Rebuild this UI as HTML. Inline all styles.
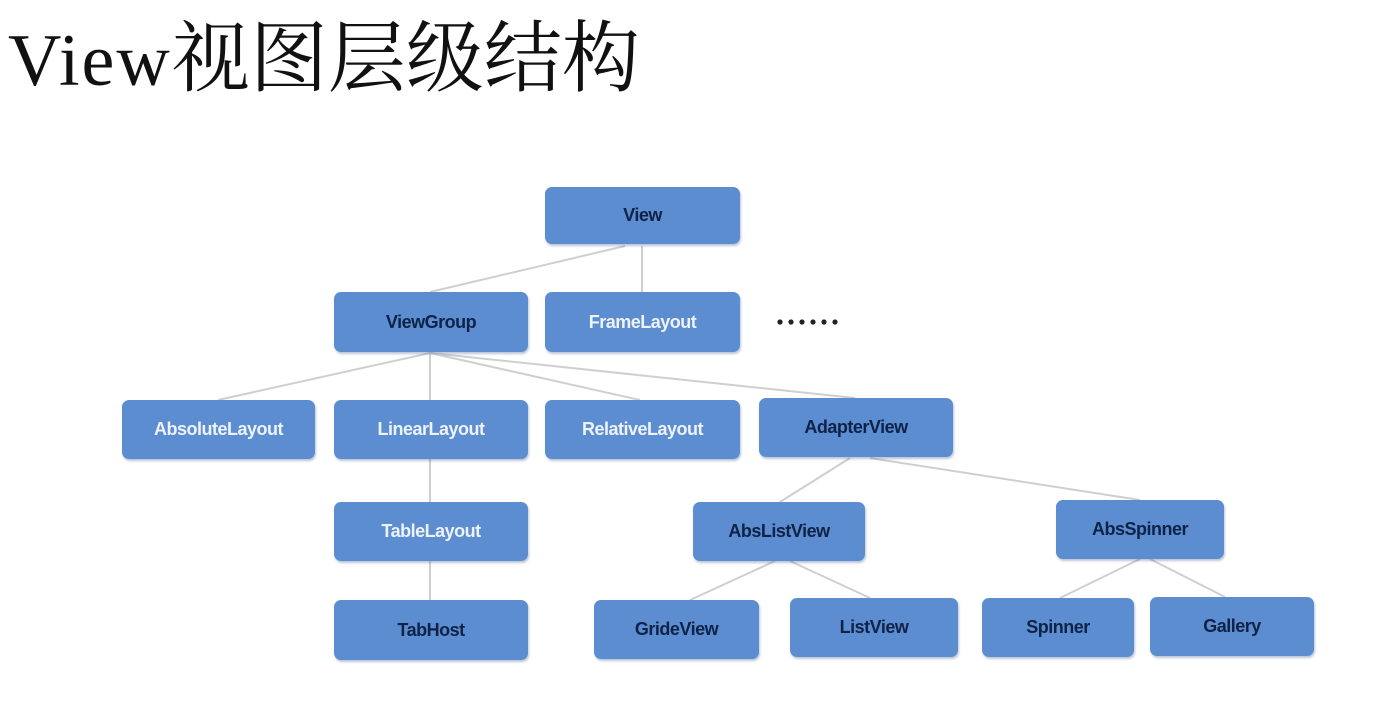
<!DOCTYPE html>
<html><head><meta charset="utf-8"><style>
body{margin:0;width:1375px;height:714px;background:#fff;position:relative;overflow:hidden;font-family:"Liberation Sans",sans-serif}
.t{position:absolute;left:8px;top:14px;font-family:"Liberation Serif","Noto Serif CJK SC",serif;font-size:78px;line-height:90px;color:#111;white-space:nowrap}
.t span{font-size:74px;letter-spacing:2px;font-weight:normal}
.n{position:absolute;background:#5b8dd0;border-radius:7px;box-shadow:1px 2px 2px rgba(60,90,140,.35);display:flex;align-items:center;justify-content:center;font-weight:bold;font-size:18px;color:#0f2247;letter-spacing:-.5px}
.w{color:#eef3fb}
svg{position:absolute;left:0;top:0}
</style></head><body>
<div class="t"><span>View</span>视图层级结构</div>
<svg width="1375" height="714"><g stroke="#cfcfcf" stroke-width="2" fill="none">
<line x1="625" y1="246" x2="430" y2="292"/><line x1="642" y1="246" x2="642" y2="292"/>
<line x1="430" y1="353" x2="218" y2="400"/><line x1="430" y1="353" x2="430" y2="400"/>
<line x1="430" y1="353" x2="640" y2="400"/><line x1="430" y1="353" x2="855" y2="398"/>
<line x1="430" y1="459" x2="430" y2="502"/><line x1="430" y1="561" x2="430" y2="600"/>
<line x1="850" y1="458" x2="780" y2="502"/><line x1="870" y1="458" x2="1140" y2="500"/>
<line x1="775" y1="561" x2="690" y2="600"/><line x1="790" y1="561" x2="870" y2="598"/>
<line x1="1140" y1="559" x2="1060" y2="598"/><line x1="1150" y1="559" x2="1225" y2="597"/>
</g><g fill="#222">
<circle cx="780" cy="322" r="2.6"/><circle cx="791" cy="322" r="2.6"/><circle cx="802" cy="322" r="2.6"/><circle cx="813" cy="322" r="2.6"/><circle cx="824" cy="322" r="2.6"/><circle cx="835" cy="322" r="2.6"/>
</g></svg>
<div class="n" style="left:545px;top:187px;width:195px;height:57px">View</div>
<div class="n" style="left:334px;top:292px;width:194px;height:60px">ViewGroup</div>
<div class="n w" style="left:545px;top:292px;width:195px;height:60px">FrameLayout</div>
<div class="n w" style="left:122px;top:400px;width:193px;height:59px">AbsoluteLayout</div>
<div class="n w" style="left:334px;top:400px;width:194px;height:59px">LinearLayout</div>
<div class="n w" style="left:545px;top:400px;width:195px;height:59px">RelativeLayout</div>
<div class="n" style="left:759px;top:398px;width:194px;height:59px">AdapterView</div>
<div class="n w" style="left:334px;top:502px;width:194px;height:59px">TableLayout</div>
<div class="n" style="left:693px;top:502px;width:172px;height:59px">AbsListView</div>
<div class="n" style="left:1056px;top:500px;width:168px;height:59px">AbsSpinner</div>
<div class="n" style="left:334px;top:600px;width:194px;height:60px">TabHost</div>
<div class="n" style="left:594px;top:600px;width:165px;height:59px">GrideView</div>
<div class="n" style="left:790px;top:598px;width:168px;height:59px">ListView</div>
<div class="n" style="left:982px;top:598px;width:152px;height:59px">Spinner</div>
<div class="n" style="left:1150px;top:597px;width:164px;height:59px">Gallery</div>
</body></html>
